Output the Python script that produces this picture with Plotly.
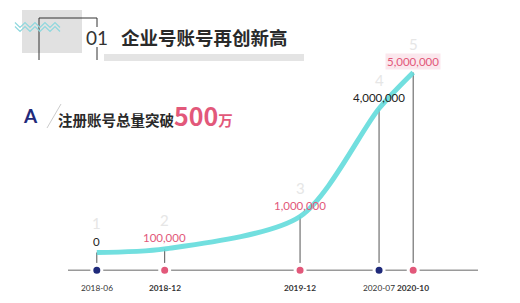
import plotly.graph_objects as go

# ---- data ----
dates = ["2018-06-01", "2018-12-01", "2019-12-01", "2020-07-01", "2020-10-01"]
date_labels = ["2018-06", "2018-12", "2019-12", "2020-07", "2020-10"]
accounts = [0, 100000, 1000000, 4000000, 5000000]
value_labels = ["0", "100,000", "1,000,000", "4,000,000", "5,000,000"]
step_labels = ["1", "2", "3", "4", "5"]
title = "企业号账号再创新高"
subtitle = "注册账号总量突破"
headline_number = "500"
headline_unit = "万"

# ---- styles ----
W, H = 520, 303
PINK = "#e2587a"
NAVY = "#1f2a7a"
TEAL = "#63dcdc"
dot_colors = [NAVY, PINK, PINK, NAVY, PINK]
label_colors = ["#222222", PINK, PINK, "#222222", PINK]
bold_dates = [False, True, True, False, True]
FONT = "Lato, Noto Sans CJK SC, sans-serif"
CJK = "Noto Sans CJK SC, sans-serif"

y_vals = [a / 1e6 for a in accounts]
BASE = -0.49      # baseline level on the value axis
STEM_END = -0.29

def px(x):
    return x / W

def py(y):
    return 1 - y / H

fig = go.Figure()

# stems
sx, sy = [], []
for d, v in zip(dates, y_vals):
    sx += [d, d, None]
    sy += [v, STEM_END, None]
fig.add_trace(go.Scatter(x=sx, y=sy, mode="lines",
                         line=dict(color="#555555", width=1), hoverinfo="skip"))

# curve
fig.add_trace(go.Scatter(x=dates, y=y_vals, mode="lines",
                         line=dict(color=TEAL, width=5, shape="spline", smoothing=0.8),
                         opacity=0.9, hoverinfo="skip"))

# timeline dots
fig.add_trace(go.Scatter(x=dates, y=[BASE] * len(dates), mode="markers",
                         marker=dict(size=10, color=dot_colors,
                                     line=dict(color="white", width=3)),
                         hoverinfo="skip"))

shapes = []
# baseline
shapes.append(dict(type="line", xref="paper", yref="y", x0=px(68), x1=px(478),
                   y0=BASE, y1=BASE, line=dict(color="#9a9a9a", width=1.5), layer="below"))
# header decoration
shapes.append(dict(type="rect", xref="paper", yref="paper", x0=px(22), x1=px(82),
                   y0=py(53), y1=py(10), fillcolor="#e1e1e1", line=dict(width=0), layer="below"))
shapes.append(dict(type="rect", xref="paper", yref="paper", x0=px(104), x1=px(304),
                   y0=py(61), y1=py(54), fillcolor="#e4e4e4", line=dict(width=0), layer="below"))
for (x0, y0, x1, y1) in [(39, 18, 39, 60), (39, 18, 97, 18), (97, 18, 97, 27), (97, 47, 97, 60)]:
    shapes.append(dict(type="line", xref="paper", yref="paper", x0=px(x0), x1=px(x1),
                       y0=py(y0), y1=py(y1), line=dict(color="#333333", width=1)))
# wavy lines
for yc in (25, 29):
    pts = []
    x = 15
    up = True
    while x <= 62:
        pts.append((x, yc - 2.5 if up else yc + 2.5))
        up = not up
        x += 5
    path = "M " + " L ".join(f"{px(a):.4f},{py(b):.4f}" for a, b in pts)
    shapes.append(dict(type="path", xref="paper", yref="paper", path=path,
                       line=dict(color="#8fd8de", width=1.2)))
# slash next to logo
shapes.append(dict(type="line", xref="paper", yref="paper", x0=px(47), x1=px(61),
                   y0=py(128), y1=py(104), line=dict(color="#cccccc", width=1)))

annotations = []
annotations.append(dict(x=px(97), y=py(37), xref="paper", yref="paper", text="01",
                        xanchor="center", yanchor="middle", showarrow=False,
                        font=dict(family=FONT, size=19, color="#333333")))
annotations.append(dict(x=px(119), y=py(37), xref="paper", yref="paper", text=f"<b>{title}</b>",
                        xanchor="left", yanchor="middle", showarrow=False,
                        font=dict(family=CJK, size=18.5, color="#2a2a2a")))
annotations.append(dict(x=px(30), y=py(115), xref="paper", yref="paper", text="<b>A</b>",
                        xanchor="center", yanchor="middle", showarrow=False,
                        font=dict(family=FONT, size=19, color=NAVY)))
annotations.append(dict(x=px(56), y=py(115), xref="paper", yref="paper",
                        text=(f"<b>{subtitle}</b><span style='color:{PINK};font-size:25px'><b>{headline_number}</b></span>"
                              f"<span style='color:{PINK}'><b>{headline_unit}</b></span>"),
                        xanchor="left", yanchor="middle", showarrow=False,
                        font=dict(family=CJK, size=14.5, color="#2a2a2a")))

for d, v, lab, lc, st in zip(dates, y_vals, value_labels, label_colors, step_labels):
    annotations.append(dict(x=d, y=v, xref="x", yref="y", text=lab, showarrow=False,
                            xanchor="center", yanchor="middle",
                            yshift=11, font=dict(family=FONT, size=11.5, color=lc),
                            bgcolor="rgba(250,225,232,0.8)" if lab == value_labels[-1] else None))
    annotations.append(dict(x=d, y=v, xref="x", yref="y", text=st, showarrow=False,
                            xanchor="center", yanchor="middle",
                            yshift=29, font=dict(family=FONT, size=15, color="#e6e6e6")))

for d, lab, b in zip(dates, date_labels, bold_dates):
    annotations.append(dict(x=d, y=BASE, xref="x", yref="y",
                            text=f"<b>{lab}</b>" if b else lab, showarrow=False,
                            xanchor="center", yanchor="middle",
                            yshift=-18, font=dict(family=FONT, size=8.3, color="#333333")))

fig.update_layout(
    width=W, height=H, margin=dict(l=0, r=0, t=0, b=0),
    paper_bgcolor="white", plot_bgcolor="white", showlegend=False,
    xaxis=dict(type="date", range=["2017-09-13", "2021-07-16"], visible=False, fixedrange=True),
    yaxis=dict(range=[-1.403, 7.014], visible=False, fixedrange=True),
    shapes=shapes, annotations=annotations,
)

fig.write_html("out.html")
